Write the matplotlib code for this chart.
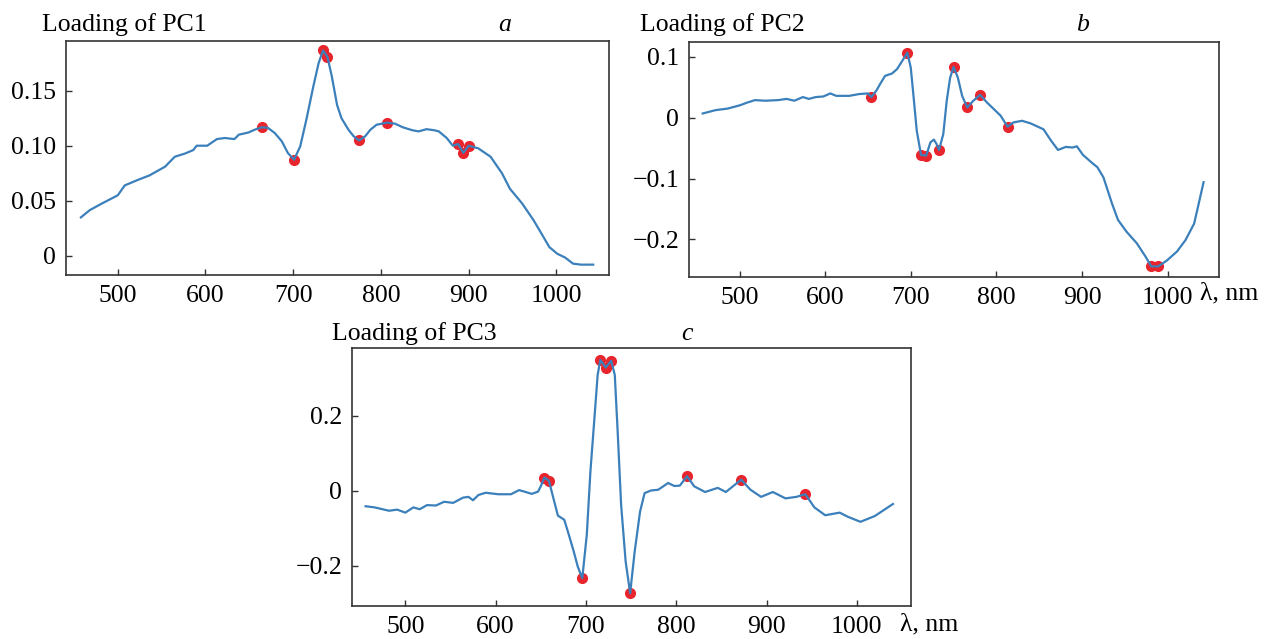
import matplotlib
matplotlib.use("Agg")
import matplotlib.pyplot as plt

plt.rcParams["font.family"] = ["Liberation Serif", "DejaVu Serif"]
plt.rcParams["font.size"] = 18.5

# PC1 loading
pc1_wl = [458, 468, 482, 500, 508, 523, 536, 554, 565, 577,
          586, 590, 602, 613, 622, 633, 638, 649, 656, 664,
          671, 679, 687, 694, 701, 708, 715, 723, 729, 734,
          739, 744, 750, 755, 763, 769, 775, 782, 788, 795,
          807, 816, 825, 836, 843, 852, 861, 866, 875, 882,
          888, 894, 900, 911, 925, 938, 947, 961, 974, 983,
          992, 1001, 1010, 1019, 1028, 1042]
pc1_val = [0.035, 0.0415, 0.0476, 0.055, 0.064, 0.069, 0.073, 0.081, 0.090, 0.093,
           0.096, 0.100, 0.100, 0.106, 0.107, 0.106, 0.110, 0.112, 0.1145, 0.1167,
           0.1163, 0.1115, 0.104, 0.0933, 0.0873, 0.0994, 0.1236, 0.154, 0.175, 0.1864,
           0.1806, 0.163, 0.137, 0.125, 0.1145, 0.1085, 0.1048, 0.1085, 0.1145, 0.119,
           0.121, 0.120, 0.1167, 0.114, 0.113, 0.115, 0.114, 0.113, 0.107, 0.100,
           0.1015, 0.0936, 0.100, 0.0976, 0.090, 0.075, 0.061, 0.0476, 0.0324, 0.0203,
           0.008, 0.002, -0.0015, -0.007, -0.0079, -0.0079]
pc1_sel_wl = [664, 701, 734, 739, 775, 807, 888, 894, 900]
pc1_sel_val = [0.1167, 0.0873, 0.1864, 0.1806, 0.1048, 0.121, 0.1015, 0.0936, 0.100]

# PC2 loading
pc2_wl = [457, 472, 486, 501, 508, 518, 530, 545, 555, 564,
          574, 581, 589, 598, 606, 613, 628, 640, 650, 654,
          660, 664, 670, 678, 684, 690, 696, 700, 703, 707,
          712, 718, 723, 727, 730, 733, 738, 742, 746, 750,
          755, 760, 766, 773, 781, 789, 797, 805, 813, 820,
          830, 840, 855, 864, 872, 881, 889, 894, 901, 911,
          918, 925, 935, 942, 952, 964, 974, 981, 989, 999,
          1011, 1021, 1031, 1042]
pc2_val = [0.007, 0.0125, 0.015, 0.0207, 0.0245, 0.029, 0.028, 0.029, 0.031, 0.028,
           0.034, 0.031, 0.034, 0.035, 0.040, 0.036, 0.036, 0.039, 0.040, 0.034,
           0.045, 0.055, 0.0689, 0.0727, 0.080, 0.0934, 0.107, 0.0825, 0.0388, -0.0213,
           -0.0612, -0.0623, -0.0404, -0.036, -0.043, -0.053, -0.0268, 0.0279, 0.066, 0.0836,
           0.066, 0.036, 0.0169, 0.0279, 0.0377, 0.0251, 0.0142, 0.0033, -0.0148, -0.0077,
           -0.005, -0.0093, -0.019, -0.038, -0.053, -0.048, -0.049, -0.047, -0.061, -0.0734,
           -0.0815, -0.098, -0.141, -0.168, -0.1875, -0.2065, -0.228, -0.2446, -0.2446, -0.235,
           -0.220, -0.201, -0.174, -0.106]
pc2_sel_wl = [654, 696, 712, 718, 733, 750, 766, 781, 813, 981, 989]
pc2_sel_val = [0.034, 0.107, -0.0612, -0.0623, -0.053, 0.0836, 0.0169, 0.0377, -0.0148,
               -0.2446, -0.2446]

# PC3 loading
pc3_wl = [456, 466, 482, 491, 500, 509, 516, 524, 534, 543,
          553, 564, 570, 575, 581, 589, 603, 617, 626, 632,
          640, 647, 650, 654, 659, 664, 669, 676, 680, 686,
          691, 696, 701, 705, 710, 713, 716, 722, 728, 732,
          735, 739, 744, 749, 754, 760, 765, 772, 780, 785,
          791, 798, 804, 812, 820, 832, 846, 855, 872, 882,
          894, 907, 921, 933, 943, 953, 965, 981, 990, 1004,
          1020, 1040]
pc3_val = [-0.041, -0.044, -0.053, -0.050, -0.058, -0.044, -0.049, -0.038, -0.039, -0.029,
           -0.032, -0.018, -0.016, -0.025, -0.011, -0.005, -0.009, -0.009, 0.002, -0.002,
           -0.008, -0.002, 0.012, 0.0355, 0.0275, -0.0195, -0.066, -0.077, -0.108, -0.157,
           -0.202, -0.233, -0.117, 0.0515, 0.2115, 0.309, 0.349, 0.329, 0.347, 0.309,
           0.167, -0.037, -0.188, -0.273, -0.162, -0.055, -0.006, 0.001, 0.003, 0.011,
           0.021, 0.013, 0.014, 0.039, 0.012, -0.003, 0.008, -0.003, 0.030, 0.0035,
           -0.016, -0.003, -0.020, -0.016, -0.009, -0.044, -0.065, -0.058, -0.069, -0.0825,
           -0.067, -0.035]
pc3_sel_wl = [654, 659, 696, 716, 722, 728, 749, 812, 872, 943]
pc3_sel_val = [0.0355, 0.0275, -0.233, 0.349, 0.329, 0.347, -0.273, 0.039, 0.030, -0.009]

x_ticks = [500, 600, 700, 800, 900, 1000]
LINE = "#3b80bb"
DOT = "#e8242c"
W, H = 1273, 639


def ax_at(fig, left, top, right, bottom):
    return fig.add_axes([left / W, 1 - bottom / H, (right - left) / W, (bottom - top) / H])


def style(ax, ylim, yticks, ylabels):
    ax.set_xlim(441, 1060)
    ax.set_ylim(*ylim)
    ax.set_xticks(x_ticks)
    ax.set_xticklabels([str(t) for t in x_ticks])
    ax.set_yticks(yticks)
    ax.set_yticklabels(ylabels)
    ax.tick_params(direction="in", length=4.5, width=1, color="#333333", pad=7)
    for s in ax.spines.values():
        s.set_color("#333333")
        s.set_linewidth(1.2)


def draw(ax, wl, val, sel_wl, sel_val):
    ax.plot(sel_wl, sel_val, "o", color=DOT, ms=7, mec=DOT, zorder=2)
    ax.plot(wl, val, color=LINE, lw=1.6, zorder=3)


fig = plt.figure(figsize=(W / 100, H / 100), dpi=100)

ax1 = ax_at(fig, 66, 41, 609, 275)
draw(ax1, pc1_wl, pc1_val, pc1_sel_wl, pc1_sel_val)
style(ax1, (-0.0173, 0.195), [0, 0.05, 0.10, 0.15], ["0", "0.05", "0.10", "0.15"])

ax2 = ax_at(fig, 689, 42, 1219, 277)
draw(ax2, pc2_wl, pc2_val, pc2_sel_wl, pc2_sel_val)
style(ax2, (-0.262, 0.1246), [-0.2, -0.1, 0, 0.1], ["\u22120.2", "\u22120.1", "0", "0.1"])

ax3 = ax_at(fig, 352, 348, 911, 606)
draw(ax3, pc3_wl, pc3_val, pc3_sel_wl, pc3_sel_val)
style(ax3, (-0.307, 0.381), [-0.2, 0, 0.2], ["\u22120.2", "0", "0.2"])

# panel headers
fig.text(42 / W, 1 - 25 / H, "Loading of PC1", ha="left", va="center")
fig.text(505 / W, 1 - 25 / H, "a", ha="center", va="center", style="italic")
fig.text(640 / W, 1 - 25 / H, "Loading of PC2", ha="left", va="center")
fig.text(1082 / W, 1 - 25 / H, "b", ha="center", va="center", style="italic")
fig.text(332 / W, 1 - 334 / H, "Loading of PC3", ha="left", va="center")
fig.text(687 / W, 1 - 334 / H, "c", ha="center", va="center", style="italic")

# axis unit labels
fig.text(1200 / W, 1 - 293 / H, "\u03bb, nm", ha="left", va="center")
fig.text(900 / W, 1 - 624 / H, "\u03bb, nm", ha="left", va="center")

fig.savefig("out.png", dpi=100)
